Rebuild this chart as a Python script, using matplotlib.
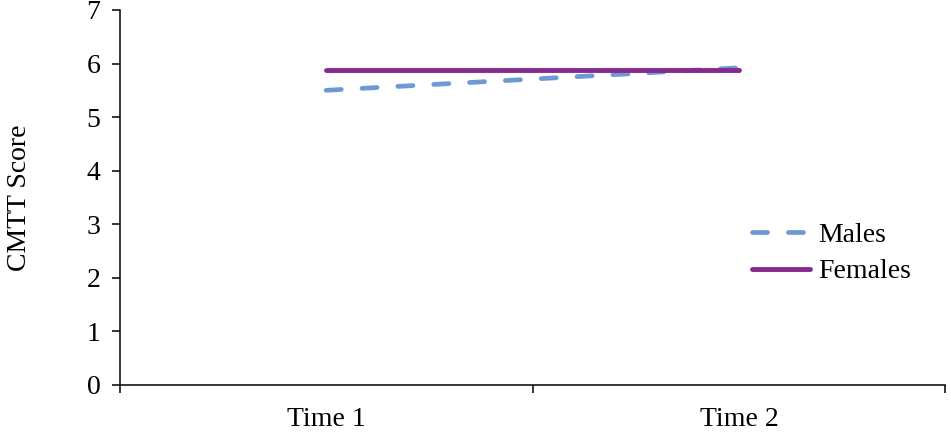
import numpy as np
import matplotlib.pyplot as plt

categories = ['Time 1', 'Time 2']
males = [5.50, 5.92]
females = [5.87, 5.87]

plt.rcParams['font.family'] = ['Liberation Serif', 'DejaVu Serif']

fig = plt.figure(figsize=(9.51, 4.33), dpi=100)
ax = fig.add_axes([0.126, 0.111, 0.868, 0.866])

x = np.arange(len(categories))
ax.plot(x, males, color='#6F99D3', lw=3.4, dashes=(3.2, 4.4),
        dash_capstyle='round', label='Males')
ax.plot(x, females, color='#862A8F', lw=3.5, solid_capstyle='round',
        label='Females')

ax.set_xlim(-0.5, len(categories) - 0.5)
ax.set_ylim(0, 7)
ax.set_yticks(range(8))
ax.set_xticks(np.arange(len(categories) + 1) - 0.5)
ax.set_xticklabels([])
ax.set_xticks(x, minor=True)
ax.set_xticklabels(categories, minor=True)
ax.tick_params(axis='x', which='minor', length=0, pad=16, labelsize=20)
ax.tick_params(axis='x', which='major', length=6, width=1.1, direction='out')
ax.tick_params(axis='y', length=6, width=1.1, labelsize=20, pad=8)

for s in ['top', 'right']:
    ax.spines[s].set_visible(False)
for s in ['left', 'bottom']:
    ax.spines[s].set_linewidth(1.1)

ax.set_ylabel('CMTT Score', fontsize=20, labelpad=39)

ax.legend(loc='upper left', bbox_to_anchor=(0.735, 0.5), frameon=False,
          fontsize=20, handlelength=2.1, handletextpad=0.3, labelspacing=0.4)

fig.savefig('out.png', dpi=100)
